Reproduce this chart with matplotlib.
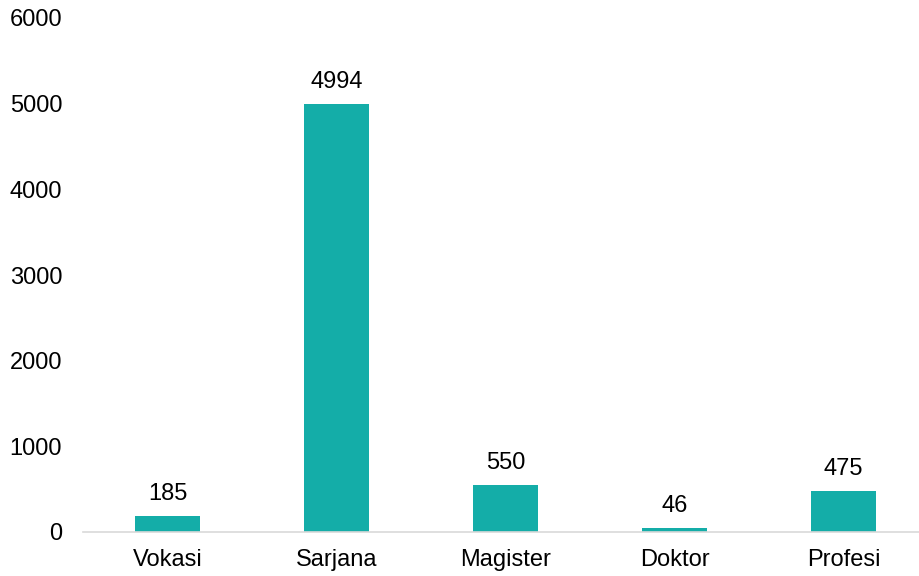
import matplotlib.pyplot as plt

categories = ['Vokasi', 'Sarjana', 'Magister', 'Doktor', 'Profesi']
values = [185, 4994, 550, 46, 475]
yticks = [0, 1000, 2000, 3000, 4000, 5000, 6000]

BAR_COLOR = '#14ada8'

plt.rcParams['font.family'] = ['Liberation Sans', 'DejaVu Sans']

fig = plt.figure(figsize=(9.2, 5.76), dpi=100)
# categories are spaced ~169 px; axes runs a bit past the right edge
ax = fig.add_axes([83 / 920, 1 - 532 / 576, 845 / 920, (532 - 18) / 576])

x = range(len(categories))
bars = ax.bar(x, values, width=0.39, color=BAR_COLOR)

for b, v in zip(bars, values):
    ax.annotate(str(v), (b.get_x() + b.get_width() / 2, v),
                xytext=(0, 8), textcoords='offset points',
                ha='center', va='bottom', fontsize=17, color='#000000')

ax.set_xlim(-0.5, len(categories) - 0.5)
ax.set_ylim(0, 6000)
ax.set_yticks(yticks)
ax.set_xticks(list(x))
ax.set_xticklabels(categories)
ax.tick_params(axis='both', length=0, labelsize=17, colors='#000000')
ax.tick_params(axis='y', pad=15)
ax.tick_params(axis='x', pad=12)

for side in ['top', 'right', 'left']:
    ax.spines[side].set_visible(False)
ax.spines['bottom'].set_color('#d9d9d9')
ax.spines['bottom'].set_linewidth(1.2)

fig.savefig('out.png', dpi=100)
